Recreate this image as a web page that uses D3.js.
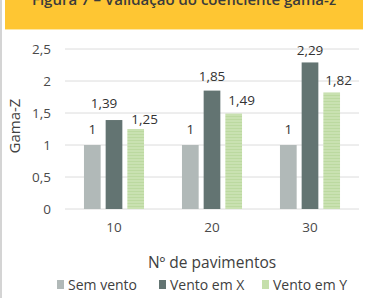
<!DOCTYPE html>
<html>
<head>
<meta charset="utf-8">
<script src="https://cdn.jsdelivr.net/npm/d3@7"></script>
<style>
  body { margin: 0; background: #fff; }
  svg { display: block; font-family: "Open Sans", sans-serif; }
</style>
</head>
<body>
<div id="chart"></div>
<script>
// Data
const categories = ["10", "20", "30"];
const seriesNames = ["Sem vento", "Vento em X", "Vento em Y"];
const semVento = [1, 1, 1];
const ventoX = [1.39, 1.85, 2.29];
const ventoY = [1.25, 1.49, 1.82];
const yTicks = [0, 0.5, 1, 1.5, 2, 2.5];

const width = 367;
const height = 298;
const margin = { top: 49, right: 8, bottom: 89, left: 65 };

// label nudges (dx, gap above bar) per series, per category - copied from the original layout
const labelDx = [[0, 0, 0], [-10, 0, 0], [9, 8, 7]];
const labelGap = [[11, 11, 11], [12, 10, 7], [5, 9, 8]];

const svg = d3.select("#chart")
    .append("svg")
    .attr("width", width)
    .attr("height", height);

// stripe pattern for the green bars
const defs = svg.append("defs");
const pat = defs.append("pattern")
    .attr("id", "stripes")
    .attr("patternUnits", "userSpaceOnUse")
    .attr("width", 4)
    .attr("height", 3);
pat.append("rect").attr("width", 4).attr("height", 3).attr("fill", "#c9e1b1");
pat.append("rect").attr("y", 2).attr("width", 4).attr("height", 1).attr("fill", "#bcd9a0");

const colors = ["#b1b9b8", "#637472", "url(#stripes)"];
const legendColors = ["#b1b9b8", "#637472", "#c5dfab"];

// frame + header
svg.append("rect").attr("x", 0).attr("y", 0).attr("width", 2).attr("height", height).attr("fill", "#d4d4d4");
svg.append("rect").attr("x", 5).attr("y", 0).attr("width", 358).attr("height", 30).attr("fill", "#fec633");
svg.append("rect").attr("x", 5).attr("y", 29).attr("width", 358).attr("height", 1).attr("fill", "#fde7a6");
svg.append("text")
    .attr("x", 184)
    .attr("y", 5)
    .attr("text-anchor", "middle")
    .attr("font-size", 15)
    .attr("font-weight", 600)
    .attr("fill", "#3b3b3b")
    .text("Figura 7 – Validação do coeficiente gama-z");

const x0 = d3.scaleBand()
    .domain(categories)
    .range([margin.left, width - margin.right]);

const x1 = d3.scaleBand()
    .domain(seriesNames)
    .range([0, x0.bandwidth()])
    .paddingInner(0.23)
    .paddingOuter(0.875);

const y = d3.scaleLinear()
    .domain([0, 2.5])
    .range([height - margin.bottom, margin.top]);

const fmt = v => String(v).replace(".", ",");

// grid
svg.append("g")
    .selectAll("line")
    .data(yTicks)
    .join("line")
    .attr("x1", margin.left)
    .attr("x2", width - margin.right)
    .attr("y1", d => y(d))
    .attr("y2", d => y(d))
    .attr("stroke", "#dcdcdc")
    .attr("stroke-width", 1);

// y axis
const yAxis = svg.append("g")
    .attr("transform", `translate(${margin.left},0)`)
    .call(d3.axisLeft(y).tickValues(yTicks).tickSize(0).tickPadding(14).tickFormat(fmt));
yAxis.select(".domain").remove();
yAxis.selectAll("text").attr("font-size", 13.5).attr("fill", "#4a4a4a").attr("font-family", "Open Sans");

// x axis
const xAxis = svg.append("g")
    .attr("transform", `translate(0,${height - margin.bottom})`)
    .call(d3.axisBottom(x0).tickSize(0).tickPadding(13));
xAxis.select(".domain").remove();
xAxis.selectAll("text").attr("font-size", 13.5).attr("fill", "#4a4a4a").attr("font-family", "Open Sans");

const rows = categories.map((c, i) => ({
    cat: c,
    i,
    vals: [semVento[i], ventoX[i], ventoY[i]]
}));

const groups = svg.append("g")
    .selectAll("g")
    .data(rows)
    .join("g")
    .attr("transform", d => `translate(${x0(d.cat)},0)`);

groups.selectAll("rect")
    .data(d => d.vals.map((v, j) => ({ name: seriesNames[j], v, j, i: d.i })))
    .join("rect")
    .attr("x", d => x1(d.name))
    .attr("width", x1.bandwidth())
    .attr("y", d => y(d.v))
    .attr("height", d => y(0) - y(d.v))
    .attr("fill", d => colors[d.j]);

groups.selectAll("text")
    .data(d => d.vals.map((v, j) => ({ name: seriesNames[j], v, j, i: d.i })))
    .join("text")
    .attr("x", d => x1(d.name) + x1.bandwidth() / 2 + labelDx[d.j][d.i])
    .attr("y", d => y(d.v) - labelGap[d.j][d.i])
    .attr("text-anchor", "middle")
    .attr("font-size", 13.5)
    .attr("fill", "#333")
    .text(d => fmt(d.v));

// axis titles
svg.append("text")
    .attr("transform", `translate(16,126) rotate(-90)`)
    .attr("text-anchor", "middle")
    .attr("dominant-baseline", "middle")
    .attr("font-size", 15)
    .attr("fill", "#404040")
    .text("Gama-Z");

svg.append("text")
    .attr("x", 212)
    .attr("y", 268)
    .attr("text-anchor", "middle")
    .attr("font-size", 15.5)
    .attr("fill", "#404040")
    .text("Nº de pavimentos");

// legend
const legendX = [57, 159, 262];
const legend = svg.append("g")
    .selectAll("g")
    .data(seriesNames)
    .join("g")
    .attr("transform", (d, i) => `translate(${legendX[i]},280)`);
legend.append("rect")
    .attr("width", 7)
    .attr("height", 9)
    .attr("fill", (d, i) => legendColors[i]);
legend.append("text")
    .attr("x", 11)
    .attr("y", 9.5)
    .attr("font-size", 14)
    .attr("fill", "#404040")
    .text(d => d);
</script>
</body>
</html>
